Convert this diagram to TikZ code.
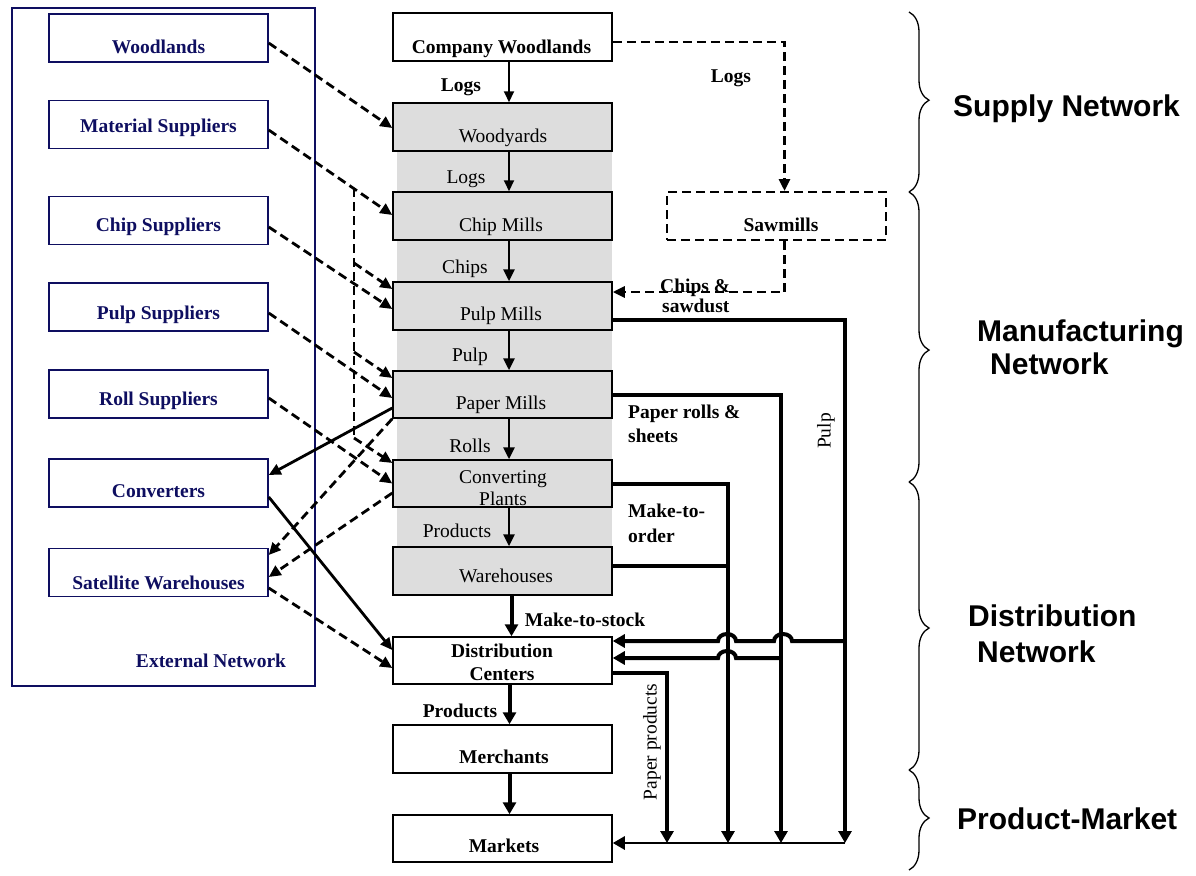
\documentclass[tikz,border=0pt]{standalone}
\usepackage{fontspec}
\setmainfont{Liberation Serif}
\newfontfamily\sansb{Liberation Sans}
\usetikzlibrary{arrows.meta,decorations.pathreplacing,calc}
\definecolor{navyc}{RGB}{14,14,96}
\definecolor{boxgray}{RGB}{221,221,221}
\begin{document}
\begin{tikzpicture}[x=1pt,y=-1pt,
  lb/.style={draw=navyc, line width=1.5pt, minimum width=219pt, minimum height=48pt, inner sep=0pt},
  cb/.style={draw=black, line width=1.5pt, fill=boxgray, minimum width=219pt, minimum height=48pt, inner sep=0pt},
  wb/.style={cb, fill=white},
  tr/.style={anchor=base, inner sep=0pt, font=\fontsize{19.5}{22}\selectfont},
  tb/.style={anchor=base, inner sep=0pt, font=\fontsize{19.5}{22}\selectfont\bfseries},
  tbl/.style={anchor=base west, inner sep=0pt, font=\fontsize{19.5}{22}\selectfont\bfseries},
  tn/.style={tb, text=navyc},
  sl/.style={anchor=base west, inner sep=0pt, font=\sansb\bfseries\fontsize{30}{35}\selectfont},
  dsh/.style={line width=2.8pt, dash pattern=on 9pt off 5pt, -{Triangle[length=12pt,width=11pt]}},
  dshn/.style={line width=2.8pt, dash pattern=on 9pt off 5pt},
  sld/.style={line width=2.8pt, -{Triangle[length=12pt,width=11pt]}},
  thn/.style={line width=2pt, -{Triangle[length=11pt,width=10pt]}},
  thk/.style={line width=4pt, -{Triangle[length=12pt,width=13pt]}},
  thkn/.style={line width=4pt},
  brc/.style={line width=1.3pt, decorate},
]
\useasboundingbox (0,0) rectangle (1196,875);

% external network frame
\node[draw=navyc, line width=1.5pt, minimum width=303pt, minimum height=678pt, inner sep=0pt] (ext) at (163.5,347) {};

% left boxes
\node[lb] (woodl) at (158.5,38) {};
\node[lb] (matsup) at (158.5,124.5) {};
\node[lb] (chipsup) at (158.5,220.5) {};
\node[lb] (pulpsup) at (158.5,307) {};
\node[lb] (rollsup) at (158.5,394) {};
\node[lb] (conv) at (158.5,483) {};
\node[lb] (satw) at (158.5,572.5) {};
\node[tn] (t-woodl) at (158.5,53) {Woodlands};
\node[tn] (t-matsup) at (158.5,132) {Material Suppliers};
\node[tn] (t-chipsup) at (158.5,231) {Chip Suppliers};
\node[tn] (t-pulpsup) at (158.5,319) {Pulp Suppliers};
\node[tn] (t-rollsup) at (158.5,405) {Roll Suppliers};
\node[tn] (t-conv) at (158.5,497) {Converters};
\node[tn] (t-satw) at (158.5,589) {Satellite Warehouses};
\node[tn] (t-ext) at (211,667) {External Network};

% gray strip
\fill[boxgray] (397,103) rectangle (612,595);

% centre boxes
\node[wb] (cw) at (502.5,37) {};
\node[cb] (wy) at (502.5,127) {};
\node[cb] (chip) at (502.5,216) {};
\node[cb] (pulp) at (502.5,306) {};
\node[cb, minimum height=47pt] (paper) at (502.5,394.5) {};
\node[cb, minimum height=47pt] (convp) at (502.5,483.5) {};
\node[cb] (wh) at (502.5,571) {};
\node[wb, minimum height=47pt] (dc) at (502.5,660.5) {};
\node[wb] (merch) at (502.5,749) {};
\node[wb, minimum height=47pt] (mkts) at (502.5,838.5) {};
\node[draw=black, line width=2pt, dash pattern=on 9pt off 5pt, minimum width=219pt, minimum height=48pt, inner sep=0pt] (saw) at (776.5,216) {};

\node[tb] (t-cw) at (501.5,53) {Company Woodlands};
\node[tr] (t-wy) at (503,142) {Woodyards};
\node[tr] (t-chip) at (501,231) {Chip Mills};
\node[tr] (t-pulp) at (501,320) {Pulp Mills};
\node[tr] (t-paper) at (501,409) {Paper Mills};
\node[tr] (t-convp1) at (503,483) {Converting};
\node[tr] (t-convp2) at (503,505) {Plants};
\node[tr] (t-wh) at (506,582) {Warehouses};
\node[tb] (t-dc1) at (502,657) {Distribution};
\node[tb] (t-dc2) at (502,680) {Centers};
\node[tb] (t-merch) at (504,763) {Merchants};
\node[tb] (t-mkts) at (504,852) {Markets};
\node[tb] (t-saw) at (781,231) {Sawmills};

% flow labels
\node[tb] (l-logs1) at (461,92) {Logs};
\node[tb] (l-logs2) at (731,82) {Logs};
\node[tr] (l-logs3) at (466,183) {Logs};
\node[tr] (l-chips) at (465,273) {Chips};
\node[tr] (l-pulp) at (470,361) {Pulp};
\node[tr] (l-rolls) at (470,452) {Rolls};
\node[tr] (l-prod1) at (457,537) {Products};
\node[tb] (l-mts) at (585,626) {Make-to-stock};
\node[tb] (l-prod2) at (460,717) {Products};
\node[tbl] (l-cs1) at (660,292) {Chips \&};
\node[tbl] (l-cs2) at (662,312) {sawdust};
\node[tbl] (l-pr1) at (628,418) {Paper rolls \&};
\node[tbl] (l-pr2) at (628,442) {sheets};
\node[tbl] (l-mo1) at (628,517) {Make-to-};
\node[tbl] (l-mo2) at (628,542) {order};
\node[rotate=90, inner sep=0pt, font=\fontsize{19.5}{22}\selectfont] (l-pulpv) at (826,431) {Pulp};
\node[rotate=90, inner sep=0pt, font=\fontsize{19.5}{22}\selectfont] (l-pp) at (652,742) {Paper products};

% network labels
\node[sl] (n-sup) at (953,116) {Supply Network};
\node[sl] (n-man1) at (977,341) {Manufacturing};
\node[sl] (n-man2) at (990,374) {Network};
\node[sl] (n-dis1) at (968,626) {Distribution};
\node[sl] (n-dis2) at (977,662) {Network};
\node[sl] (n-pm) at (957,829) {Product-Market};

% braces
\draw[brc, decoration={brace, amplitude=20pt, aspect=0.49}] (909,12) -- (909,192);
\draw[brc, decoration={brace, amplitude=20pt, aspect=0.545}] (909,192) -- (909,482);
\draw[brc, decoration={brace, amplitude=20pt, aspect=0.507}] (909,482) -- (909,770);
\draw[brc, decoration={brace, amplitude=20pt, aspect=0.48}] (909,770) -- (909,870);

% centre column flow
\draw[thn] ([xshift=6.5pt]cw.south) -- ([xshift=6.5pt]wy.north);
\draw[thn] ([xshift=6.5pt]wy.south) -- ([xshift=6.5pt]chip.north);
\draw[sld] ([xshift=6.5pt]chip.south) -- ([xshift=6.5pt]pulp.north);
\draw[sld] ([xshift=6.5pt]pulp.south) -- ([xshift=6.5pt]paper.north);
\draw[sld] ([xshift=6.5pt]paper.south) -- ([xshift=6.5pt]convp.north);
\draw[sld] ([xshift=6.5pt]convp.south) -- ([xshift=6.5pt]wh.north);
\draw[thk] ([xshift=9pt]wh.south) -- ([xshift=9pt]dc.north);
\draw[thk] ([xshift=7pt]dc.south) -- ([xshift=7pt]merch.north);
\draw[thk] ([xshift=7pt]merch.south) -- ([xshift=7pt]mkts.north);

% sawmills
\draw[dsh] ([yshift=-5pt]cw.east) -| ([xshift=8pt]saw.north);
\draw[dsh] ([xshift=8pt]saw.south) |- ([yshift=14pt]pulp.east);

% external dashed / solid links
\coordinate (j1) at (354,188);
\coordinate (j2) at (354,263);
\coordinate (j3) at (354,352);
\coordinate (j4) at (354,438);
\draw[dsh] ([yshift=-5pt]woodl.east) -- ([yshift=-1pt]wy.west);
\draw[dsh] ([yshift=-5.5pt]matsup.east) -- ([yshift=1pt]chip.west);
\draw[dshn] (j1) -- (j4);
\draw[dsh] (j4) -- ([yshift=20.5pt]convp.west);
\draw[dsh] (j2) -- ([yshift=17pt]pulp.west);
\draw[dsh] (j3) -- ([yshift=16.5pt]paper.west);
\draw[dsh] ([yshift=-6.5pt]chipsup.east) -- ([yshift=-3pt]pulp.west);
\draw[dsh] ([yshift=-6pt]pulpsup.east) -- ([yshift=-3.5pt]paper.west);
\draw[dsh] ([yshift=-4pt]rollsup.east) -- (convp.west);
\draw[sld] ([yshift=-13.5pt]paper.west) -- ([yshift=8pt]conv.east);
\draw[dsh] (paper.south west) -- ([yshift=17.5pt]satw.east);
\draw[dsh] ([yshift=-9.5pt]convp.west) -- ([yshift=-4.5pt]satw.east);
\draw[sld] ([yshift=-14pt]conv.east) -- ([yshift=10.5pt]dc.west);
\draw[dsh] ([yshift=-15.5pt]satw.east) -- ([yshift=-7.5pt]dc.west);

% right-hand flows to markets
\coordinate (bp1) at (845,843);
\coordinate (bp2) at (781,843);
\coordinate (bp3) at (728,843);
\coordinate (bp4) at (667,843);
\draw[thk] ([yshift=-14pt]pulp.east) -| (bp1);
\draw[thk] (paper.east) -| (bp2);
\draw[thk] (convp.east) -| (bp3);
\coordinate (whr) at ([yshift=5pt]wh.east);
\draw[thkn] (whr) -- (whr -| bp3);
\draw[thk] ([yshift=-12.5pt]dc.east) -| (bp4);
\draw[line width=2.7pt, -{Triangle[length=12pt,width=13pt]}] (bp1) -- ([yshift=-4.5pt]mkts.east);

% flows into distribution centres with hops
\coordinate (hp1) at (845,641);
\coordinate (hp2) at (781,658);
\draw[thk] (hp1) -- (792,641) arc[start angle=0, end angle=180, x radius=9pt, y radius=7pt]
  -- (736,641) arc[start angle=0, end angle=180, x radius=9pt, y radius=7pt]
  -- ([yshift=19.5pt]dc.east);
\draw[thk] (hp2) -- (736,658) arc[start angle=0, end angle=180, x radius=9pt, y radius=7pt]
  -- ([yshift=2.5pt]dc.east);
\end{tikzpicture}
\end{document}
